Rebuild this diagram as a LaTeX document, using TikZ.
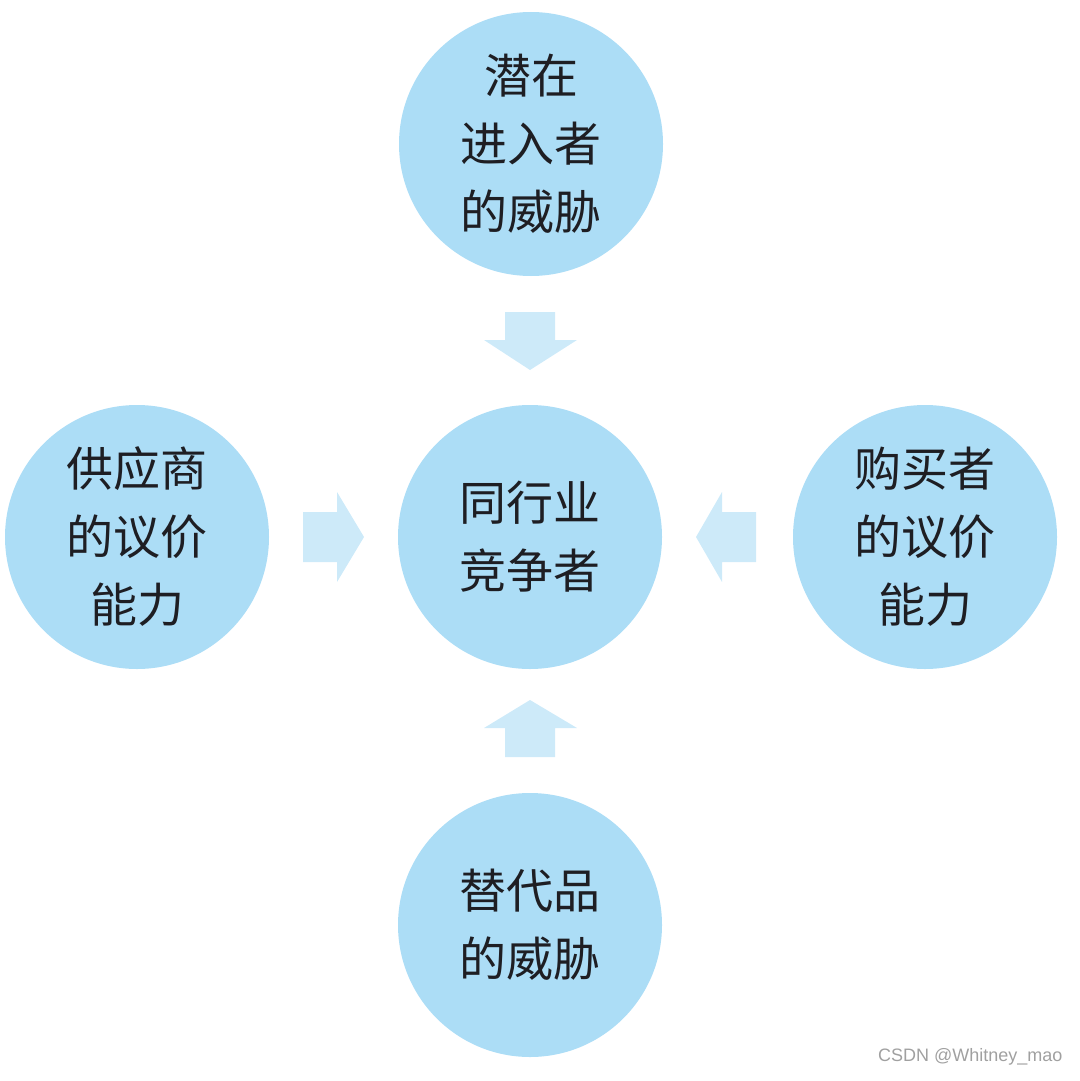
\documentclass[tikz,border=0pt]{standalone}
\usepackage{fontspec}
\newfontfamily\cjk{Noto Sans CJK SC}
\setsansfont{Liberation Sans}
\definecolor{circblue}{RGB}{172,221,246}
\definecolor{arrblue}{RGB}{205,234,249}
\definecolor{txtdark}{RGB}{30,30,35}
\definecolor{wmgray}{RGB}{160,160,160}
\tikzset{
  force/.style={circle, fill=circblue, minimum size=264pt, inner sep=0pt,
    align=center, text=txtdark, font=\cjk\fontsize{47}{68}\selectfont},
  blockarrow/.style={fill=arrblue, draw=none}
}
\begin{document}
\begin{tikzpicture}[x=1pt,y=-1pt]
\useasboundingbox (0,0) rectangle (1079,1081);
\node[force] (top) at (531,144) {潜在\\进入者\\的威胁};
\node[force] (mid) at (530,537) {同行业\\竞争者};
\node[force] (left) at (137,537) {供应商\\的议价\\能力};
\node[force] (right) at (925,537) {购买者\\的议价\\能力};
\node[force] (bottom) at (530,925) {替代品\\的威胁};
% block arrows
\fill[blockarrow] (505,312) -- (555,312) -- (555,340) -- (577,340) -- (530,370) -- (484,340) -- (505,340) -- cycle;
\fill[blockarrow] (505,757) -- (555,757) -- (555,728) -- (577,728) -- (530,700) -- (484,728) -- (505,728) -- cycle;
\fill[blockarrow] (303,512) -- (337,512) -- (337,492) -- (364,537) -- (337,582) -- (337,562) -- (303,562) -- cycle;
\fill[blockarrow] (756,512) -- (722,512) -- (722,492) -- (696,537) -- (722,582) -- (722,562) -- (756,562) -- cycle;
\node[anchor=east, text=wmgray, font=\sffamily\fontsize{18}{20}\selectfont] (wm) at (1066,1057) {CSDN @Whitney\_mao};
\end{tikzpicture}
\end{document}
